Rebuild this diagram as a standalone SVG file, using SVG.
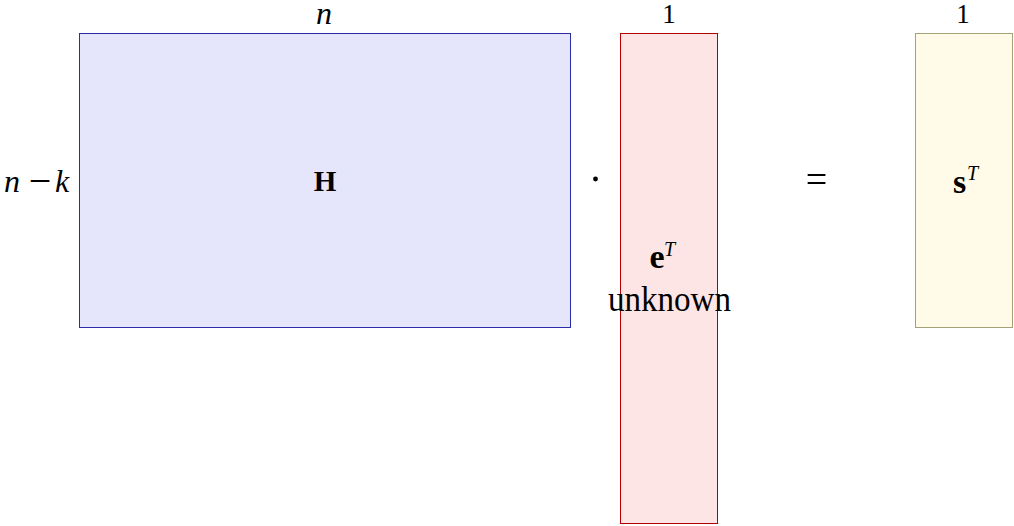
<svg xmlns="http://www.w3.org/2000/svg" width="1014" height="526" viewBox="0 0 1014 526">
<style>
text{font-family:"Liberation Serif","DejaVu Serif",serif;font-size:27px;fill:#000}
.m{font-style:italic;font-size:32px}
.b{font-weight:bold}
.sup{font-style:italic;font-size:20px}
</style>
<rect width="1014" height="526" fill="#fff"/>
<g id="H">
<rect x="79.5" y="33.5" width="491" height="294" fill="#e5e5fb" stroke="#2c2ca8" stroke-width="1"/>
<text x="325" y="191" text-anchor="middle" class="b" style="font-size:29px">H</text>
<text x="324" y="24" text-anchor="middle" class="m">n</text>
<text x="4" y="192" class="m">n</text>
<text x="40" y="194" text-anchor="middle" style="font-size:40px">−</text>
<text x="55" y="192" class="m">k</text>
</g>
<g id="e">
<rect x="620.5" y="33.5" width="97" height="490" fill="#fde5e5" stroke="#b50000" stroke-width="1"/>
<text x="669" y="22.5" text-anchor="middle">1</text>
<text x="657" y="268" text-anchor="middle" class="b" style="font-size:34px">e</text>
<text x="664" y="256" class="sup">T</text>
<text x="608" y="311" textLength="123" lengthAdjust="spacingAndGlyphs" style="font-size:35px">unknown</text>
</g>
<g id="op">
<circle cx="595.5" cy="179" r="2.4" fill="#000"/>
<text x="816.5" y="191.5" text-anchor="middle" style="font-size:38px">=</text>
</g>
<g id="s">
<rect x="915.5" y="33.5" width="97" height="294" fill="#fffbe8" stroke="#a3a37a" stroke-width="1"/>
<text x="963" y="22.5" text-anchor="middle">1</text>
<text x="959.5" y="193" text-anchor="middle" class="b" style="font-size:34px">s</text>
<text x="967" y="180" class="sup">T</text>
</g>
<g id="connectors"></g>
</svg>
